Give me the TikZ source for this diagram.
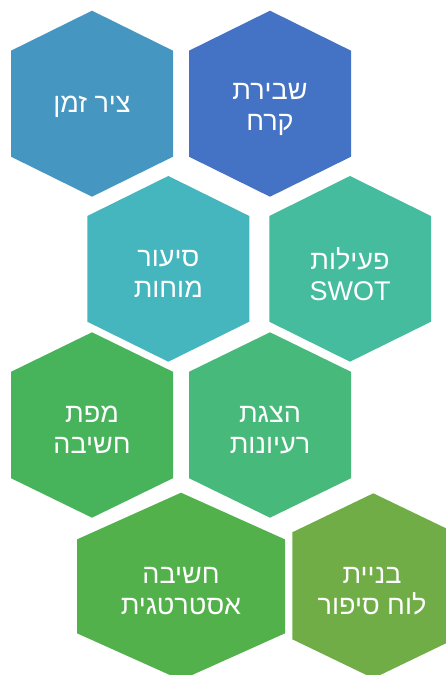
\documentclass[tikz,border=0pt]{standalone}
\usepackage{fontspec}
\TeXXeTstate=1
\newfontfamily\hebfont[Script=Hebrew]{Liberation Sans}
\definecolor{cA}{HTML}{4596C1}
\definecolor{cB}{HTML}{4472C4}
\definecolor{cC}{HTML}{45B6BE}
\definecolor{cD}{HTML}{45BC9E}
\definecolor{cE}{HTML}{47B35B}
\definecolor{cF}{HTML}{47B97A}
\definecolor{cG}{HTML}{52B14B}
\definecolor{cH}{HTML}{70AD47}
\tikzset{lbl/.style={text=white, align=center, inner sep=0pt,
  font=\hebfont\fontsize{27}{31}\selectfont}}
% #1 color, #2 cx, #3 left, #4 right, #5 top, #6 bottom, #7 offset
\newcommand\hexshape[7]{%
  \fill[#1] (#2,#5) -- (#4,#5+#7) -- (#4,#6-#7) -- (#2,#6) -- (#3,#6-#7) -- (#3,#5+#7) -- cycle;}
\begin{document}
\begin{tikzpicture}[x=1pt,y=-1pt]
\useasboundingbox (0,0) rectangle (446,675);
\hexshape{cA}{92}{11}{173}{10.7}{196.7}{40}
\hexshape{cB}{270}{189}{351}{10.7}{196.7}{40}
\hexshape{cC}{168.3}{87.3}{249.3}{176}{361.7}{40}
\hexshape{cD}{350}{269.3}{431}{176}{361.7}{40}
\hexshape{cE}{92}{11}{173}{332.3}{517.7}{39.5}
\hexshape{cF}{270}{189}{351}{332.3}{517.7}{39.5}
\hexshape{cG}{181}{77}{285}{492.7}{680}{46.7}
\hexshape{cH}{373.3}{292.3}{454.3}{493.3}{678.3}{39}
\node[lbl] (t1) at (92,106.5) {\beginR ציר זמן\endR};
\node[lbl] (t2) at (270,109) {\beginR שבירת\endR\\\beginR קרח\endR};
\node[lbl] (t3) at (168.3,274) {\beginR סיעור\endR\\\beginR מוחות\endR};
\node[lbl] (t4) at (350,274) {\beginR פעילות\endR\\SWOT};
\node[lbl] (t5) at (92,430) {\beginR מפת\endR\\\beginR חשיבה\endR};
\node[lbl] (t6) at (270,430) {\beginR הצגת\endR\\\beginR רעיונות\endR};
\node[lbl] (t7) at (181,591.5) {\beginR חשיבה\endR\\\beginR אסטרטגית\endR};
\node[lbl] (t8) at (372,591.5) {\beginR בניית\endR\\\beginR לוח סיפור\endR};
\end{tikzpicture}
\end{document}
